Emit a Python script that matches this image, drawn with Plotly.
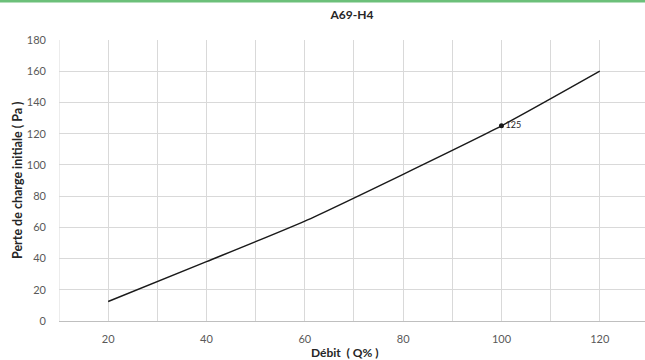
import plotly.graph_objects as go

debit = [20, 40, 60, 80, 100, 120]
perte = [12.5, 38, 64, 94, 125, 160]
marked_x = [100]
marked_y = [125]
marked_label = ["125"]
x_ticks = [20, 40, 60, 80, 100, 120]
y_ticks = [0, 20, 40, 60, 80, 100, 120, 140, 160, 180]

FONT = "Lato, 'Open Sans', sans-serif"
L, R, T, B = 59, 0, 40, 39
PW, PH = 645 - L - R, 360 - T - B

fig = go.Figure()
fig.add_trace(go.Scatter(
    x=debit, y=perte, mode="lines",
    line=dict(color="#1a1a1a", width=1.4, shape="spline", smoothing=0.6),
    hoverinfo="x+y", showlegend=False))
fig.add_trace(go.Scatter(
    x=marked_x, y=marked_y, mode="markers+text",
    marker=dict(color="#1a1a1a", size=5),
    text=marked_label, textposition="middle right",
    textfont=dict(family=FONT, size=9, color="#262626"),
    showlegend=False))

fig.update_layout(
    width=645, height=360,
    margin=dict(l=L, r=R, t=T, b=B, autoexpand=False),
    paper_bgcolor="white", plot_bgcolor="white",
    font=dict(family=FONT, color="#595959", size=11),
    title=dict(text="<b>A69-H4</b>", x=352/645, xanchor="center",
               y=1 - 15/360, yanchor="middle",
               font=dict(family=FONT, size=12, color="#262626")),
    shapes=[dict(type="line", xref="paper", yref="paper",
                 x0=-L/PW, x1=1, y0=1 + (T - 1)/PH, y1=1 + (T - 1)/PH,
                 line=dict(color="#6cc07a", width=3))],
    annotations=[
        dict(text="<b>Débit  ( Q% )</b>", xref="paper", yref="paper",
             x=(345 - L)/PW, y=-(352 - (T + PH))/PH, xanchor="center", yanchor="middle",
             showarrow=False, font=dict(family=FONT, size=12, color="#262626")),
        dict(text="<b>Perte de charge initiale ( Pa )</b>", xref="paper", yref="paper",
             x=-(L - 17)/PW, y=(T + PH - 180)/PH, xanchor="center", yanchor="middle",
             textangle=-90, showarrow=False,
             font=dict(family=FONT, size=12.5, color="#262626")),
    ],
)
fig.update_xaxes(
    range=[10, 129.2], tickvals=x_ticks, ticktext=[str(v) for v in x_ticks],
    showgrid=True, gridcolor="#d9d9d9", gridwidth=1,
    minor=dict(dtick=10, tick0=0, showgrid=True, gridcolor="#d9d9d9", gridwidth=1),
    zeroline=False, showline=True, linecolor="#bfbfbf", linewidth=1,
    ticks="", ticklabelstandoff=8, automargin=False,
)
fig.update_yaxes(
    range=[0, 180], tickvals=y_ticks,
    showgrid=True, gridcolor="#d9d9d9", gridwidth=1,
    zeroline=False, showline=False, ticks="", ticklabelstandoff=12,
    automargin=False,
)
fig.add_shape(type="line", xref="x", yref="paper", x0=10, x1=10, y0=0, y1=1,
              line=dict(color="#d9d9d9", width=1), layer="below")

fig.write_html("out.html", config={"displayModeBar": False},
               post_script="document.body.style.margin='0';document.body.style.overflow='hidden';")
